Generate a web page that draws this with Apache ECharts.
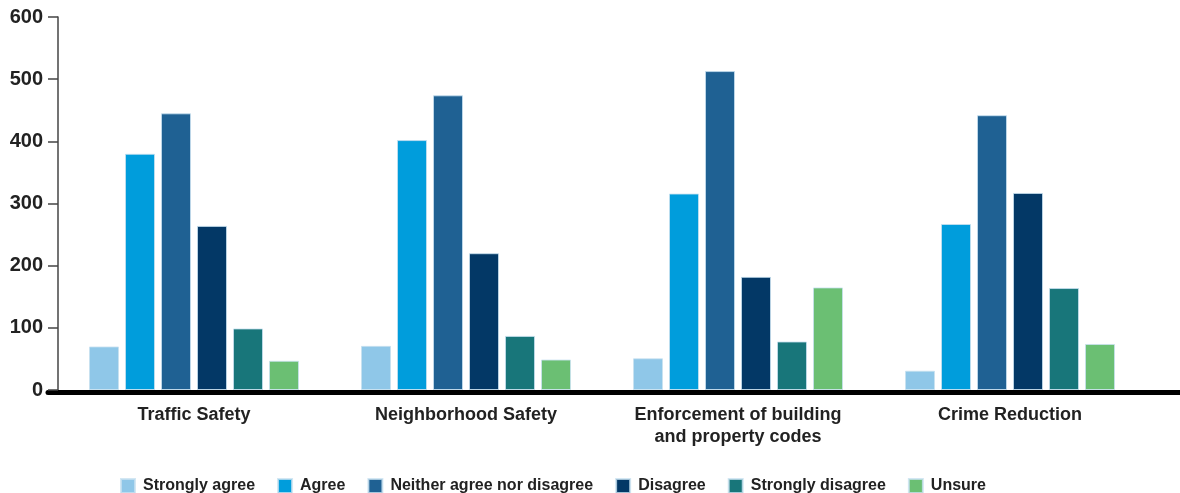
<!DOCTYPE html>
<html>
<head>
<meta charset="utf-8">
<script src="https://cdn.jsdelivr.net/npm/echarts@6/dist/echarts.min.js"></script>
<style>html,body{margin:0;padding:0;background:#fff}#c{width:1180px;height:493px}</style>
</head>
<body>
<div id="c"></div>
<script>
const categories = ['Traffic Safety', 'Neighborhood Safety', 'Enforcement of building\nand property codes', 'Crime Reduction'];
const seriesNames = ['Strongly agree', 'Agree', 'Neither agree nor disagree', 'Disagree', 'Strongly disagree', 'Unsure'];
const stronglyAgree = [70, 71, 51, 31];
const agree = [380, 402, 316, 267];
const neither = [445, 474, 513, 442];
const disagree = [264, 220, 182, 317];
const stronglyDisagree = [99, 87, 78, 164];
const unsure = [47, 49, 165, 74];
const yTicks = [0, 100, 200, 300, 400, 500, 600];
const colors = ['#8fc7e8', '#009ddc', '#1f6193', '#033866', '#18767a', '#6bbf73'];

const values = [stronglyAgree, agree, neither, disagree, stronglyDisagree, unsure];
const font = 'Liberation Sans, Arial, sans-serif';
const chart = echarts.init(document.getElementById('c'));
chart.setOption({
  animation: false,
  color: colors,
  grid: [
    { left: 58, right: 34, top: 17, bottom: 103, containLabel: false },
    { left: 48, right: 0, top: 17, bottom: 100.5, containLabel: false }
  ],
  legend: {
    left: 120, top: 478, padding: 0,
    itemWidth: 14, itemHeight: 14, itemGap: 22,
    icon: 'rect',
    data: seriesNames,
    textStyle: { fontFamily: font, fontWeight: 'bold', fontSize: 16, color: '#222', padding: [0, 0, 0, 3] }
  },
  xAxis: [
    {
      type: 'category', gridIndex: 0, data: categories,
      axisLine: { show: false }, axisTick: { show: false },
      axisLabel: { margin: 14, fontFamily: font, fontWeight: 'bold', fontSize: 18, color: '#222', lineHeight: 22, interval: 0 }
    },
    {
      type: 'category', gridIndex: 1, data: [''],
      axisLine: { show: true, lineStyle: { color: '#000', width: 5 } },
      axisTick: { show: false }, axisLabel: { show: false }
    }
  ],
  yAxis: [
    {
      type: 'value', gridIndex: 0, min: 0, max: 600, interval: 100,
      axisLine: { show: true, lineStyle: { color: '#444', width: 1.5 } },
      axisTick: { show: true, inside: false, length: 10, lineStyle: { color: '#444', width: 1.5 } },
      splitLine: { show: false },
      axisLabel: { margin: 15, fontFamily: font, fontWeight: 'bold', fontSize: 20, color: '#222',
        formatter: v => yTicks.includes(v) ? String(v) : '' }
    },
    { type: 'value', gridIndex: 1, show: false, min: 0, max: 1 }
  ],
  series: seriesNames.map((name, i) => ({
    name, type: 'bar', xAxisIndex: 0, yAxisIndex: 0,
    data: values[i],
    barWidth: 30, barGap: '20%',
    itemStyle: { color: colors[i], borderColor: 'rgba(200,225,240,0.8)', borderWidth: 1 }
  }))
});
</script>
</body>
</html>
